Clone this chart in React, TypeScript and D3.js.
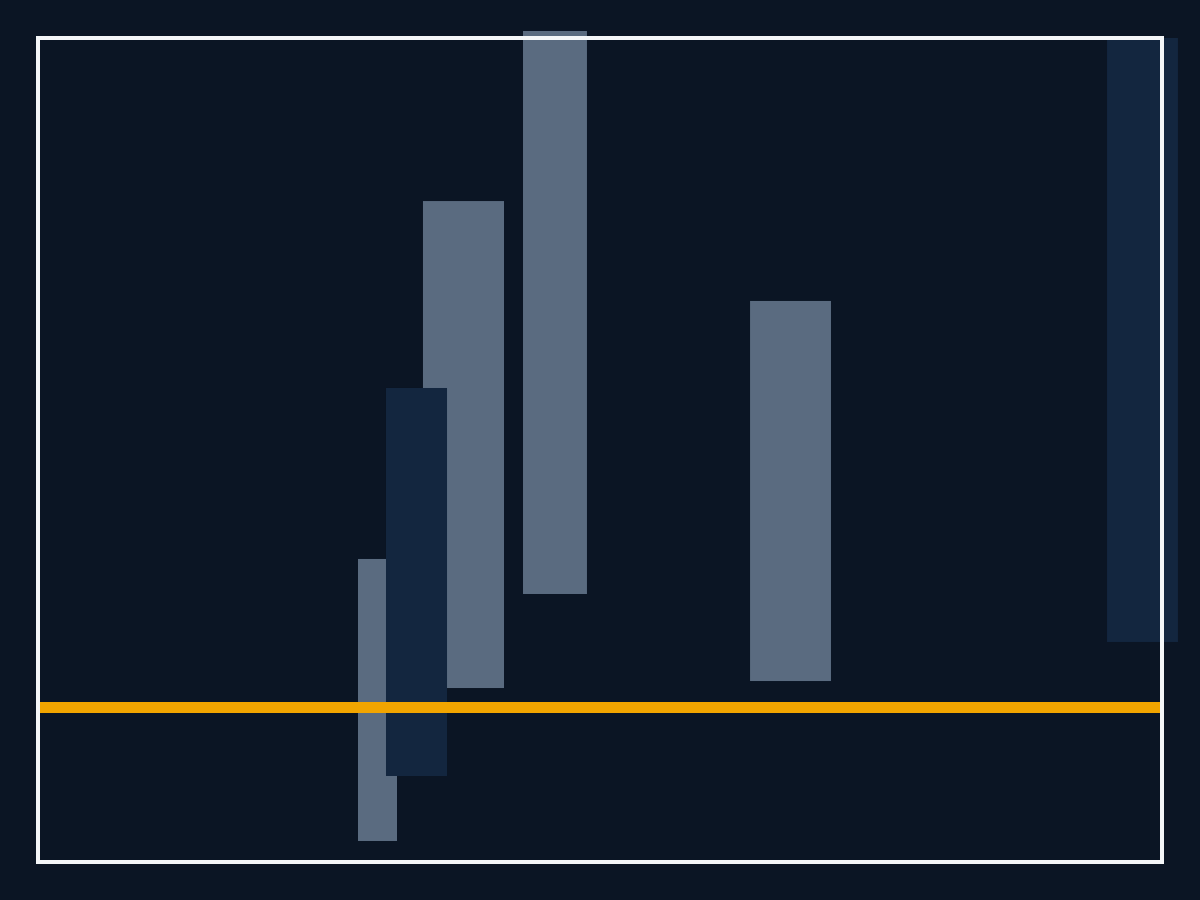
import React from 'react';
import * as d3 from 'd3';

const WIDTH = 1200;
const HEIGHT = 900;

// Floating ranges: horizontal extent (x0..x1) and vertical extent (low..high)
const barNames = ['A', 'B', 'C', 'D', 'E', 'F'];
const barX0 = [28.47, 34.25, 30.96, 43.15, 63.35, 95.11];
const barX1 = [31.94, 41.46, 36.39, 48.84, 70.55, 101.42];
const barLow = [-12.96, 1.89, -6.65, 11.02, 2.57, 6.36];
const barHigh = [14.42, 49.17, 31.02, 65.68, 39.47, 65.0];
const barTone = ['light', 'light', 'dark', 'light', 'light', 'dark'];

const baselineValue = 0;
const xDomain = [0, 100];
const yDomain = [-15, 65];

const COLOR_BG = '#0b1524';
const COLOR_LIGHT = '#5a6b80';
const COLOR_DARK = '#13263f';
const COLOR_BASELINE = '#f2a500';
const COLOR_FRAME = '#f4f6f8';

const margin = { top: 38, right: 38, bottom: 38, left: 38 };

export default function App() {
  const x = d3.scaleLinear().domain(xDomain).range([margin.left, WIDTH - margin.right]);
  const y = d3.scaleLinear().domain(yDomain).range([HEIGHT - margin.bottom, margin.top]);

  const bars = barNames.map((name, i) => ({
    name,
    x0: barX0[i],
    x1: barX1[i],
    low: barLow[i],
    high: barHigh[i],
    tone: barTone[i],
  }));

  return (
    <div style={{ position: 'fixed', top: 0, left: 0 }}>
      <svg width={WIDTH} height={HEIGHT} style={{ display: 'block' }}>
        <rect width={WIDTH} height={HEIGHT} fill={COLOR_BG} />
        {bars.map((b) => (
          <rect
            key={b.name}
            x={x(b.x0)}
            y={y(b.high)}
            width={x(b.x1) - x(b.x0)}
            height={y(b.low) - y(b.high)}
            fill={b.tone === 'dark' ? COLOR_DARK : COLOR_LIGHT}
          />
        ))}
        {/* baseline */}
        <line
          x1={x(xDomain[0])}
          x2={x(xDomain[1])}
          y1={y(baselineValue)}
          y2={y(baselineValue)}
          stroke={COLOR_BASELINE}
          strokeWidth={11}
        />
        {/* frame */}
        <rect
          x={x(xDomain[0])}
          y={y(yDomain[1])}
          width={x(xDomain[1]) - x(xDomain[0])}
          height={y(yDomain[0]) - y(yDomain[1])}
          fill="none"
          stroke={COLOR_FRAME}
          strokeWidth={4}
        />
      </svg>
    </div>
  );
}
